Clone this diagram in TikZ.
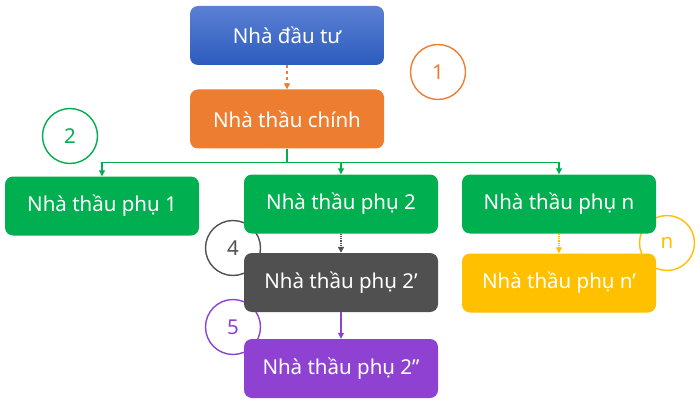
\documentclass[tikz,border=0pt]{standalone}
\usepackage{fontspec}
\setmainfont{Noto Sans}
\usetikzlibrary{arrows.meta}
\definecolor{cblueT}{HTML}{5B80D3}
\definecolor{cblueB}{HTML}{2C5CBE}
\definecolor{corange}{HTML}{ED7D31}
\definecolor{cgreen}{HTML}{00B050}
\definecolor{cgray}{HTML}{505050}
\definecolor{cyellow}{HTML}{FFC000}
\definecolor{cpurple}{HTML}{8F42D2}
\tikzset{
  box/.style={rounded corners=8pt, minimum width=194pt, minimum height=59pt,
    inner sep=0pt, text=white, font=\fontsize{20.5}{22}\selectfont},
  badge/.style={circle, draw=#1, line width=1.4pt, fill=white, minimum size=55pt,
    inner sep=0pt, text=#1, font=\fontsize{20.5}{22}\selectfont},
  link/.style={draw=#1, line width=1.2pt, -{Triangle[length=6pt,width=6pt]}},
}
\begin{document}
\begin{tikzpicture}[x=1pt,y=-1pt]
\useasboundingbox (0,0) rectangle (700,406);
% numbered badges, drawn first so the boxes sit over them
\node[badge=corange] (b1) at (438,72) {1};
\node[badge=cgreen]  (b2) at (70,136) {2};
\node[badge=cgray]   (b4) at (233,248) {4};
\node[badge=cpurple] (b5) at (233,327) {5};
\node[badge=cyellow] (bn) at (667,243) {n};
% boxes
\node[box, top color=cblueT, bottom color=cblueB] (inv) at (287,35.5) {Nhà đầu tư};
\node[box, fill=corange] (main) at (287,119) {Nhà thầu chính};
\node[box, fill=cgreen] (s1) at (102,206) {Nhà thầu phụ 1};
\node[box, fill=cgreen] (s2) at (341,204) {Nhà thầu phụ 2};
\node[box, fill=cgreen] (sn) at (559,204) {Nhà thầu phụ n};
\node[box, fill=cgray] (s2a) at (341,282.5) {Nhà thầu phụ 2’};
\node[box, fill=cyellow] (sna) at (559,283) {Nhà thầu phụ n’};
\node[box, fill=cpurple] (s2b) at (341,368.5) {Nhà thầu phụ 2”};
% connectors
\draw[link=corange, dashed] (inv) -- (main);
\draw[cgreen, line width=1.2pt] (main.south) -- ++(0,14) coordinate (hub);
\draw[link=cgreen] (hub) -| (s1.north);
\draw[link=cgreen] (hub) -| (s2.north);
\draw[link=cgreen] (hub) -| (sn.north);
\draw[link=cgray, densely dotted] (s2) -- (s2a);
\draw[link=cpurple] (s2a) -- (s2b);
\draw[link=cyellow, densely dotted] (sn) -- (sna);
\end{tikzpicture}
\end{document}
